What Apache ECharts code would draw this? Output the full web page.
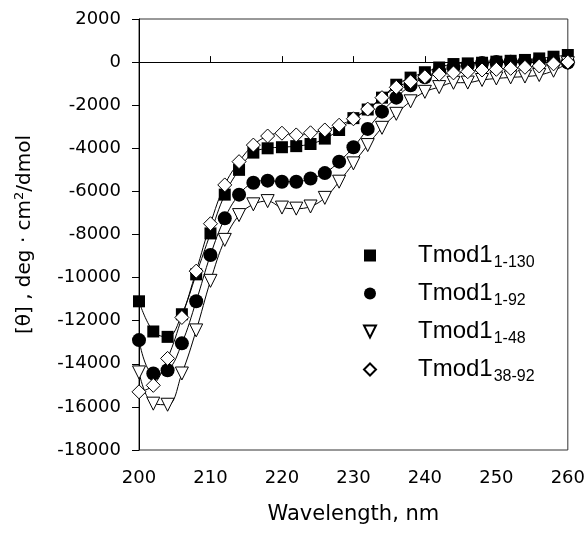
<!DOCTYPE html>
<html><head><meta charset="utf-8">
<script src="https://cdn.jsdelivr.net/npm/echarts@6/dist/echarts.min.js"></script>
<style>html,body{margin:0;padding:0;background:#fff}#c{width:588px;height:533px}</style>
</head><body><div id="c"></div>
<script>
const wavelengths = [200,202,204,206,208,210,212,214,216,218,220,222,224,226,228,230,232,234,236,238,240,242,244,246,248,250,252,254,256,258,260];
const tmod1_1_130 = [-11100,-12500,-12750,-11700,-9850,-7950,-6150,-5000,-4200,-4000,-3950,-3900,-3800,-3550,-3150,-2600,-2200,-1650,-1050,-720,-470,-250,-90,-60,-30,20,60,100,170,250,330];
const tmod1_1_92 = [-12900,-14450,-14300,-13050,-11100,-8950,-7250,-6150,-5600,-5500,-5550,-5550,-5400,-5150,-4620,-3950,-3100,-2300,-1650,-1080,-700,-420,-250,-130,-40,0,20,40,60,60,-20];
const tmod1_1_48 = [-14400,-15850,-15900,-14450,-12450,-10150,-8250,-7100,-6600,-6450,-6750,-6800,-6700,-6300,-5550,-4700,-3850,-3050,-2400,-1820,-1380,-1160,-960,-950,-830,-760,-710,-670,-600,-400,-50];
const tmod1_38_92 = [-15300,-15000,-13750,-11850,-9700,-7500,-5700,-4620,-3850,-3430,-3300,-3380,-3280,-3150,-2930,-2630,-2180,-1650,-1170,-910,-680,-560,-500,-445,-366,-335,-290,-240,-180,-80,0];
const seriesNames = ['Tmod1_1-130','Tmod1_1-92','Tmod1_1-48','Tmod1_38-92'];
const yTickLabels = [2000,0,-2000,-4000,-6000,-8000,-10000,-12000,-14000,-16000,-18000];
const xTickLabels = [200,210,220,230,240,250,260];

const FONT = 'DejaVu Sans';
const LFONT = 'Liberation Sans';
function pairs(vals){ return wavelengths.map((w,i)=>[w, vals[i]]); }
function mk(name, vals, symbol, size, filled, rotate){
  return {
    name: name, type: 'line', data: pairs(vals), smooth: 0.4,
    symbol: symbol, symbolSize: size, symbolRotate: rotate || 0,
    showAllSymbol: true,
    lineStyle: {color: '#000', width: 1},
    itemStyle: filled ? {color: '#000', borderColor: '#000', borderWidth: 0}
                      : {color: '#fff', borderColor: '#000', borderWidth: 1},
    emphasis: {disabled: true},
    z: 2
  };
}
const chart = echarts.init(document.getElementById('c'), null, {renderer: 'canvas'});
chart.setOption({
  animation: false,
  backgroundColor: '#fff',
  grid: {left: 139, right: 18, top: 19, bottom: 83, show: true, borderColor: '#333', borderWidth: 1, backgroundColor: 'transparent'},
  legend: {
    orient: 'vertical', left: 327, top: 240, padding: 0, itemGap: 7,
    itemWidth: 86, itemHeight: 15, selectedMode: false,
    data: seriesNames,
    lineStyle: {width: 0, opacity: 0},
    formatter: function(name){ const p = name.split('_'); return '{a|' + p[0] + '}{b|' + p[1] + '}'; },
    textStyle: {
      fontFamily: LFONT, color: '#000',
      rich: {
        a: {fontFamily: LFONT, fontSize: 24, lineHeight: 24, verticalAlign: 'top', color: '#000'},
        b: {fontFamily: LFONT, fontSize: 16, lineHeight: 16, padding: [15,0,0,1], color: '#000'}
      }
    }
  },
  xAxis: {
    type: 'value', min: 200, max: 260, interval: 10,
    name: 'Wavelength, nm', nameLocation: 'middle', nameGap: 54,
    nameTextStyle: {fontFamily: FONT, fontSize: 21, color: '#000'},
    axisLine: {show: true, lineStyle: {color: '#000', width: 1}},
    axisTick: {show: true, inside: true, length: 6, lineStyle: {color: '#000'}},
    axisLabel: {fontFamily: FONT, fontSize: 18, color: '#000', margin: 19,
      formatter: function(v){ return xTickLabels.indexOf(v) >= 0 ? String(v) : ''; }},
    splitLine: {show: false}
  },
  yAxis: {
    type: 'value', min: -18000, max: 2000, interval: 2000,
    name: '{n|[θ] , deg · cm}{s|2}{n|/dmol}', nameLocation: 'middle', nameGap: 103,
    nameTextStyle: {fontFamily: FONT, fontSize: 20, color: '#000',
      rich: {
        n: {fontFamily: FONT, fontSize: 20, lineHeight: 23, color: '#000'},
        s: {fontFamily: FONT, fontSize: 13, lineHeight: 13, padding: [0,0,9,0], color: '#000'}
      }},
    axisLine: {show: true, lineStyle: {color: '#000', width: 1}},
    axisTick: {show: true, inside: false, length: 7, lineStyle: {color: '#000'}},
    axisLabel: {fontFamily: FONT, fontSize: 18, color: '#000', margin: 18,
      formatter: function(v){ return yTickLabels.indexOf(v) >= 0 ? String(v) : ''; }},
    splitLine: {show: false}
  },
  series: [
    mk(seriesNames[0], tmod1_1_130, 'rect', 12, true),
    mk(seriesNames[1], tmod1_1_92, 'circle', 14, true),
    mk(seriesNames[2], tmod1_1_48, 'triangle', 13, false, 180),
    mk(seriesNames[3], tmod1_38_92, 'diamond', 14, false)
  ]
});
</script></body></html>
